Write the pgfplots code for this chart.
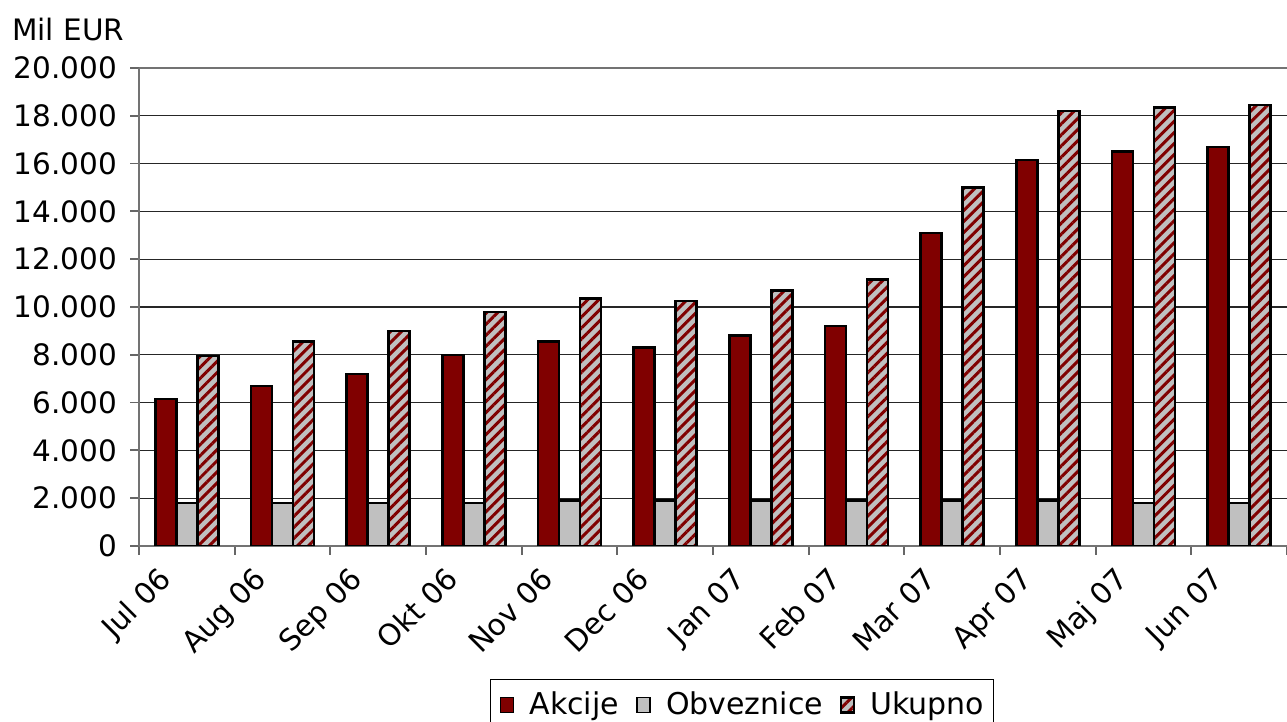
\documentclass[border=0pt]{standalone}
\usepackage{fontspec}
\setmainfont{DejaVu Sans}
\usepackage{pgfplots}
\pgfplotsset{compat=1.18}
\usetikzlibrary{patterns.meta}
\definecolor{akc}{HTML}{800000}
\definecolor{obv}{HTML}{C0C0C0}
\begin{document}
\begin{tikzpicture}
\begin{axis}[
  at={(139pt,176pt)}, anchor=south west,
  scale only axis, width=1148pt, height=478pt,
  ybar=0pt, bar width=21pt,
  xmin=-0.5, xmax=11.5, ymin=0, ymax=20000,
  xtick={-0.5,0.5,...,11.5},
  x tick label as interval,
  xticklabels={Jul 06,Aug 06,Sep 06,Okt 06,Nov 06,Dec 06,Jan 07,Feb 07,Mar 07,Apr 07,Maj 07,Jun 07},
  ytick={0,2000,...,20000},
  scaled y ticks=false,
  /pgf/number format/assume math mode=true,
  yticklabel style={/pgf/number format/1000 sep={.}, font=\fontsize{29.5}{34}\selectfont, anchor=east, inner sep=0pt, xshift=-13pt},
  xticklabel style={font=\fontsize{29.5}{34}\selectfont, inner sep=0pt, xshift=-30pt, yshift=-10pt, rotate=45, anchor=north east},
  ymajorgrids, grid style={black!85, line width=1.2pt},
  axis x line=bottom, axis y line=left,
  axis line style={-, draw=black!55, line width=2pt},
  tick align=outside, major tick length=9pt,
  tick style={black!60, line width=1.8pt},
  legend columns=3,
  legend style={at={(0.3057,-0.2782)}, anchor=north west, draw=black, line width=1pt,
    inner xsep=9pt, inner ysep=12pt,
    font=\fontsize{30}{34}\selectfont,
    nodes={inner sep=0pt},
    /tikz/every odd column/.append style={column sep=15pt},
    /tikz/every even column/.append style={column sep=17pt}},
  legend image code/.code={\path (0pt,-24pt) -- (0pt,-23pt);\draw[#1, draw=black, line width=1.6pt] (0pt,-9pt) rectangle (13pt,6pt);},
]
\addplot[fill=akc, draw=black, line width=2.5pt] coordinates {
(0,6150) (1,6700) (2,7200) (3,8000) (4,8550) (5,8300) (6,8800) (7,9200) (8,13100) (9,16150) (10,16500) (11,16700)};
\addplot[fill=obv, draw=black, line width=2.5pt] coordinates {
(0,1800) (1,1800) (2,1800) (3,1800) (4,1900) (5,1900) (6,1900) (7,1900) (8,1900) (9,1900) (10,1800) (11,1800)};
\addplot[fill=obv, draw=black, line width=2.5pt,
  postaction={pattern={Lines[angle=45,distance=7.8pt,line width=3pt]}, pattern color=akc, draw=black, line width=2.5pt}] coordinates {
(0,7950) (1,8550) (2,9000) (3,9800) (4,10350) (5,10250) (6,10700) (7,11150) (8,15000) (9,18200) (10,18350) (11,18450)};
\legend{Akcije,Obveznice,Ukupno}
\draw[black!55, line width=2pt] (rel axis cs:0,1) -- (rel axis cs:1,1);
\end{axis}
\node[anchor=base west, inner sep=0pt, font=\fontsize{29.5}{34}\selectfont] at (12pt,681pt) {Mil EUR};
\pgfresetboundingbox
\useasboundingbox (0,0) rectangle (1287pt,722pt);
\end{tikzpicture}
\end{document}
